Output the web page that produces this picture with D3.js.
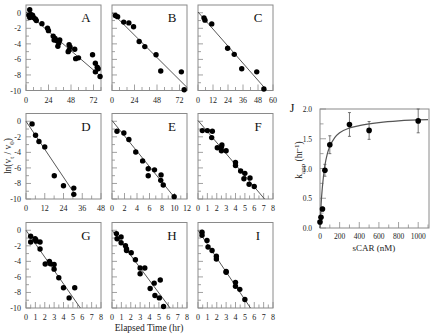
<!DOCTYPE html>
<html>
<head>
<meta charset="utf-8">
<script src="https://cdn.jsdelivr.net/npm/d3@7/dist/d3.min.js"></script>
<style>
  body { margin: 0; background: #fff; }
  svg { display: block; }
  svg text { font-family: "Liberation Serif", "Times New Roman", Times, serif; }
</style>
</head>
<body>
<svg id="chart" width="439" height="334"></svg>
<script>
// ---- data: ln(vt/v0) vs elapsed time ----
var panelA = [[3,-0.3],[4,0.4],[4,-0.6],[5,-0.2],[6,-0.5],[7,-0.3],[8,-0.6],[10,-0.8],[11,-1.0],[17,-1.4],
  [23,-2.0],[24,-2.3],[29,-3.0],[30,-3.5],[31,-3.3],[33,-3.6],[34,-4.3],[35,-3.9],[36,-3.5],[46,-4.1],
  [47,-4.4],[46,-4.8],[45,-5.0],[52,-4.7],[53,-5.9],[56,-5.8],[71,-5.4],[74,-6.5],[76,-7.0],[74,-7.6],[77,-7.2],[79,-8.2]]
var panelB = [[3.6,-0.35],[6,-0.5],[12.5,-1.2],[18,-1.3],[23,-1.8],[29,-3.7],[35,-4.35],[47,-5.4],[52,-7.5],[74,-7.6],[77,-9.9]]
var panelC = [[4.8,-0.65],[5.6,-0.95],[11,-1.43],[23.7,-4.57],[29,-5.35],[35,-7.2],[47,-7.6],[52.7,-9.8]]
var panelD = [[3.9,-0.34],[6.1,-1.8],[8.3,-2.6],[12,-3.3],[18.1,-7.0],[24,-8.3],[30.6,-8.6],[30.6,-9.4]]
var panelE = [[0.8,-1.28],[1.9,-1.5],[2.7,-2.34],[3.8,-3.96],[4.9,-5.1],[5.8,-6.1],[5.8,-7.0],[6.8,-6.25],
  [7.85,-6.9],[7.8,-7.6],[8.2,-8.2],[9.95,-9.7]]
var panelF = [[0.46,-1.2],[1.0,-1.2],[1.53,-1.28],[1.46,-2.1],[2.06,-3.4],[2.5,-3.3],[2.55,-3.06],[2.5,-3.8],
  [3.0,-3.8],[4.0,-5.3],[4.0,-5.7],[4.55,-6.4],[5.0,-6.7],[4.9,-7.4],[5.55,-7.3],[5.45,-8.1],[6.0,-8.4]]
var panelG = [[0.5,-0.77],[0.5,-1.5],[0.97,-1.1],[1.08,-1.4],[1.05,-1.25],[1.5,-1.5],[1.5,-2.4],[2.05,-4.33],
  [2.5,-4.0],[2.6,-4.3],[3.0,-4.4],[3.0,-5.0],[3.5,-6.1],[4.0,-7.4],[4.6,-8.7],[5.2,-7.4]]
var panelH = [[0.47,-0.43],[0.54,-1.1],[0.97,-0.86],[0.97,-1.6],[1.44,-2.0],[1.55,-2.4],[1.55,-2.6],[2.05,-2.9],
  [2.5,-3.8],[3.0,-4.85],[3.0,-5.6],[3.5,-4.85],[4.5,-6.8],[4.07,-7.5],[5.15,-6.4],[4.58,-8.4],[5.05,-8.7],[5.5,-9.8]]
var panelI = [[0.43,-0.26],[0.43,-0.64],[0.96,-1.3],[1.07,-2.15],[1.5,-2.6],[1.96,-3.35],[1.96,-3.7],[3.0,-5.3],
  [3.0,-5.4],[4.0,-6.7],[4.0,-7.2],[4.46,-7.6],[5.0,-8.9]]

// fitted lines, endpoints
var fitLines = [
  [[0,0.1],[80,-8.2]], [[0,0],[80,-9.6]], [[0,0.1],[54.6,-9.9]],
  [[0,0],[31,-9.3]], [[0,0.1],[10.2,-10]], [[0,0.1],[7.1,-10]],
  [[0,0],[5.8,-10]], [[0,0],[6.2,-10]], [[0,0],[5.6,-10]]
]
var panelNames = ["A","B","C","D","E","F","G","H","I"]
var panelData = [panelA,panelB,panelC,panelD,panelE,panelF,panelG,panelH,panelI]
var xMax = [80,80,60,48,12,8,8,8,8]
var xLabelStep = [24,24,12,12,2,1,1,1,1]
var xMinorStep = [8,8,6,6,1,0.5,0.5,0.5,0.5]
var yTicks = [0,-2,-4,-6,-8,-10]

// ---- panel J: kapp vs sCAR ----
var sCAR = [0, 10, 25, 50, 100, 300, 500, 1000]
var kapp = [0.1, 0.18, 0.32, 0.97, 1.40, 1.74, 1.64, 1.80]
var kappErr = [0, 0, 0.03, 0.1, 0.15, 0.2, 0.15, 0.2]
var fitJ = [[0,0],[12,0.42],[25,0.7],[50,1.05],[75,1.25],[100,1.37],[150,1.52],[200,1.6],[300,1.68],
  [400,1.72],[600,1.77],[800,1.8],[1100,1.82]]
var jXTicks = [0,200,400,600,800,1000]
var jYTicks = [0.0,0.5,1.0,1.5,2.0]

var svg = d3.select("#chart")
var frameColor = "#8a8a8a"
var colLeft = [26, 112, 198]
var rowTop = [5, 113.5, 222.5]
var pw = 75, ph = 85.5

panelData.forEach(function(data, i) {
  var col = i % 3, row = Math.floor(i / 3)
  var x0 = colLeft[col], y0 = rowTop[row]
  var x = d3.scaleLinear().domain([0, xMax[i]]).range([x0, x0 + pw])
  var y = d3.scaleLinear().domain([-10, 1]).range([y0 + ph, y0])
  var g = svg.append("g")

  g.append("rect").attr("x", x0).attr("y", y0).attr("width", pw).attr("height", ph)
    .attr("fill", "none").attr("stroke", frameColor).attr("stroke-width", 1)

  // x ticks, inward
  var minor = d3.range(0, xMax[i] + 1e-9, xMinorStep[i])
  minor.forEach(function(t) {
    var major = Math.abs(t / xLabelStep[i] - Math.round(t / xLabelStep[i])) < 1e-6
    g.append("line").attr("x1", x(t)).attr("x2", x(t))
      .attr("y1", y0 + ph).attr("y2", y0 + ph - (major ? 6 : 3.5))
      .attr("stroke", frameColor).attr("stroke-width", 0.8)
  })
  d3.range(0, xMax[i] + 1e-9, xLabelStep[i]).forEach(function(t) {
    g.append("text").attr("x", x(t)).attr("y", y0 + ph + 12)
      .attr("text-anchor", "middle").attr("font-size", 8).attr("fill", "#222").text(t)
  })

  // y ticks, inward
  d3.range(-10, 1, 1).forEach(function(t) {
    g.append("line").attr("x1", x0).attr("x2", x0 + (t % 2 === 0 ? 5 : 3))
      .attr("y1", y(t)).attr("y2", y(t))
      .attr("stroke", frameColor).attr("stroke-width", 0.8)
  })
  if (col === 0) {
    yTicks.forEach(function(t) {
      g.append("text").attr("x", x0 - 5).attr("y", y(t) + 3)
        .attr("text-anchor", "end").attr("font-size", 8).attr("fill", "#222").text(t)
    })
  }

  // fit line
  var fl = fitLines[i]
  g.append("line").attr("x1", x(fl[0][0])).attr("y1", y(fl[0][1]))
    .attr("x2", x(fl[1][0])).attr("y2", y(fl[1][1]))
    .attr("stroke", "#444").attr("stroke-width", 0.9)

  g.selectAll("circle.pt").data(data).enter().append("circle")
    .attr("cx", function(d) { return x(d[0]) })
    .attr("cy", function(d) { return y(d[1]) })
    .attr("r", 2.7).attr("fill", "#000")

  g.append("text").attr("x", x0 + pw - 15).attr("y", y0 + 17)
    .attr("text-anchor", "middle").attr("font-size", 13).attr("fill", "#111").text(panelNames[i])
})

// shared axis titles
svg.append("text").attr("x", 149).attr("y", 331).attr("text-anchor", "middle")
  .attr("font-size", 9.5).attr("fill", "#222").text("Elapsed Time (hr)")

var yl = svg.append("text").attr("transform", "translate(11,156) rotate(-90)")
  .attr("text-anchor", "middle").attr("font-size", 9.5).attr("fill", "#222")
yl.append("tspan").text("ln(v")
yl.append("tspan").attr("font-size", 7).attr("dy", 2.5).text("t")
yl.append("tspan").attr("dy", -2.5).text(" / v")
yl.append("tspan").attr("font-size", 7).attr("dy", 2.5).text("0")
yl.append("tspan").attr("dy", -2.5).text(")")

// ---- panel J ----
var jx0 = 320, jx1 = 429, jy0 = 109, jy1 = 228
var jx = d3.scaleLinear().domain([0, 1110]).range([jx0, jx1])
var jy = d3.scaleLinear().domain([0, 2]).range([jy1, jy0])
var gj = svg.append("g")

gj.append("rect").attr("x", jx0).attr("y", jy0).attr("width", jx1 - jx0).attr("height", jy1 - jy0)
  .attr("fill", "none").attr("stroke", frameColor).attr("stroke-width", 1)

d3.range(0, 1101, 100).forEach(function(t) {
  gj.append("line").attr("x1", jx(t)).attr("x2", jx(t))
    .attr("y1", jy1).attr("y2", jy1 - (t % 200 === 0 ? 6 : 3.5))
    .attr("stroke", frameColor).attr("stroke-width", 0.8)
})
jXTicks.forEach(function(t) {
  gj.append("text").attr("x", jx(t)).attr("y", jy1 + 10.5)
    .attr("text-anchor", "middle").attr("font-size", 7.5).attr("fill", "#222").text(t)
})
d3.range(0, 2.001, 0.25).forEach(function(t) {
  var major = Math.abs(t * 2 - Math.round(t * 2)) < 1e-6
  gj.append("line").attr("x1", jx0).attr("x2", jx0 + (major ? 6 : 3.5))
    .attr("y1", jy(t)).attr("y2", jy(t))
    .attr("stroke", frameColor).attr("stroke-width", 0.8)
})
jYTicks.forEach(function(t) {
  gj.append("text").attr("x", jx0 - 8).attr("y", jy(t) + 3)
    .attr("text-anchor", "end").attr("font-size", 7.5).attr("fill", "#222").text(d3.format(".1f")(t))
})

gj.append("path").datum(fitJ)
  .attr("d", d3.line().x(function(d) { return jx(d[0]) }).y(function(d) { return jy(d[1]) }).curve(d3.curveMonotoneX))
  .attr("fill", "none").attr("stroke", "#555").attr("stroke-width", 1.2)

sCAR.forEach(function(c, i) {
  var e = kappErr[i]
  if (e > 0) {
    gj.append("line").attr("x1", jx(c)).attr("x2", jx(c))
      .attr("y1", jy(kapp[i] - e)).attr("y2", jy(kapp[i] + e))
      .attr("stroke", "#555").attr("stroke-width", 0.8)
    ;[kapp[i] - e, kapp[i] + e].forEach(function(v) {
      gj.append("line").attr("x1", jx(c) - 1.5).attr("x2", jx(c) + 1.5)
        .attr("y1", jy(v)).attr("y2", jy(v))
        .attr("stroke", "#555").attr("stroke-width", 0.8)
    })
  }
  gj.append("circle").attr("cx", jx(c)).attr("cy", jy(kapp[i])).attr("r", 2.8).attr("fill", "#000")
})

gj.append("text").attr("x", 374).attr("y", 251).attr("text-anchor", "middle")
  .attr("font-size", 9).attr("fill", "#222").text("sCAR (nM)")
gj.append("text").attr("x", 292).attr("y", 112).attr("text-anchor", "middle")
  .attr("font-size", 12).attr("fill", "#111").text("J")

var kl = gj.append("text").attr("transform", "translate(302,160) rotate(-90)")
  .attr("text-anchor", "middle").attr("font-size", 9.5).attr("fill", "#222")
kl.append("tspan").text("k")
kl.append("tspan").attr("font-size", 7).attr("dy", 2.5).text("app")
kl.append("tspan").attr("dy", -2.5).text(" (hr")
kl.append("tspan").attr("font-size", 7).attr("dy", -3.5).text("-1")
kl.append("tspan").attr("dy", 3.5).text(")")
</script>
</body>
</html>
